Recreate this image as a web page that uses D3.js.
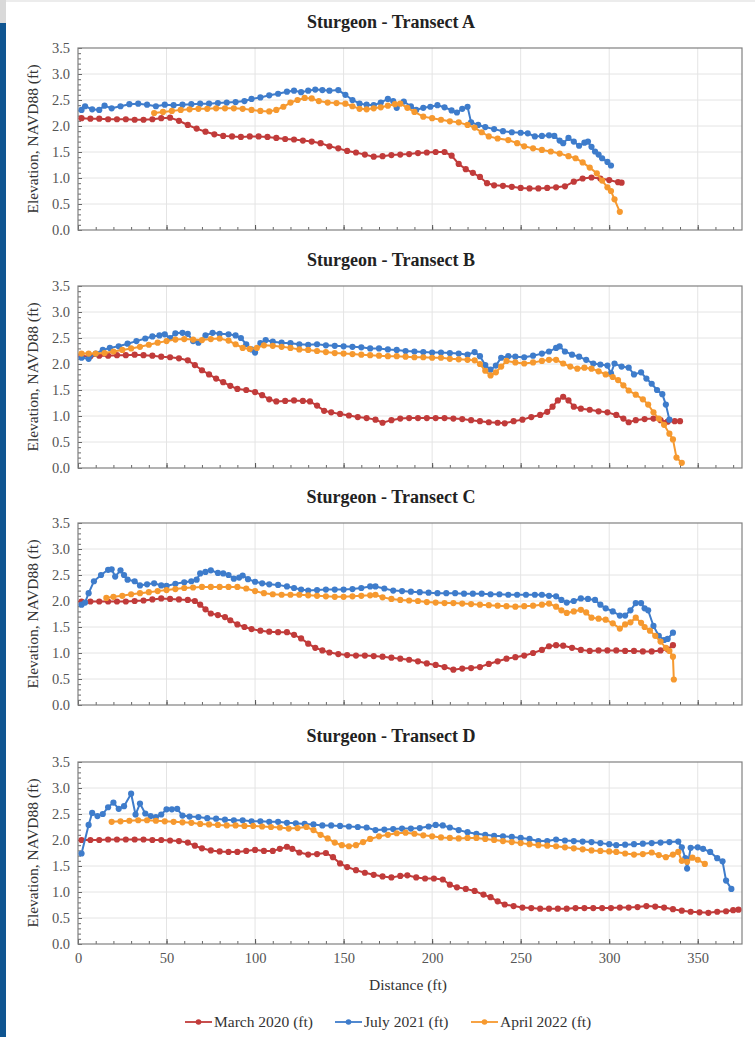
<!DOCTYPE html>
<html>
<head>
<meta charset="utf-8">
<script src="https://cdn.jsdelivr.net/npm/d3@7/dist/d3.min.js"></script>
<style>
  html, body { margin: 0; padding: 0; background: #ffffff; }
  svg { display: block; }
  text { font-family: "Liberation Serif", "Times New Roman", "DejaVu Serif", serif; }
</style>
</head>
<body>
<svg id="chart" width="755" height="1037"></svg>
<script>
// ---------- DATA ----------
const transects = ["A", "B", "C", "D"];
const seriesNames = ["March 2020 (ft)", "July 2021 (ft)", "April 2022 (ft)"];
const seriesColors = ["#C13B3A", "#3E7CCB", "#F6992F"];
const distanceTicks = [0, 50, 100, 150, 200, 250, 300, 350];
const elevationTicks = [0.0, 0.5, 1.0, 1.5, 2.0, 2.5, 3.0, 3.5];
const xTitle = "Distance (ft)";
const yTitle = "Elevation, NAVD88 (ft)";

// [distance (ft), elevation (ft)]
const marchA = [[2,2.15],[7,2.14],[12,2.14],[17,2.13],[22,2.13],[27,2.13],[32,2.12],[37,2.12],[42,2.13],[47,2.15],[52,2.16],[57,2.1],[62,2.02],[67,1.95],[72,1.89],[77,1.84],[82,1.81],[87,1.8],[92,1.79],[97,1.8],[102,1.8],[107,1.79],[112,1.77],[117,1.75],[122,1.74],[127,1.72],[132,1.7],[137,1.67],[142,1.61],[147,1.57],[152,1.52],[157,1.49],[162,1.45],[167,1.41],[172,1.42],[177,1.44],[182,1.45],[187,1.46],[192,1.48],[197,1.49],[202,1.5],[207,1.5],[211,1.43],[215,1.27],[219,1.17],[223,1.1],[227,1.02],[231,0.9],[235,0.86],[240,0.85],[245,0.83],[250,0.81],[255,0.8],[260,0.8],[265,0.81],[270,0.82],[275,0.84],[280,0.93],[285,0.99],[290,1.01],[295,0.99],[300,0.96],[305,0.92],[307,0.91]];
const julyA = [[2,2.31],[4,2.38],[8,2.32],[12,2.31],[15,2.39],[19,2.34],[24,2.38],[29,2.42],[34,2.43],[39,2.41],[44,2.38],[49,2.41],[54,2.4],[59,2.41],[64,2.42],[69,2.43],[74,2.43],[79,2.44],[84,2.45],[89,2.46],[94,2.48],[98,2.52],[103,2.55],[108,2.59],[113,2.62],[118,2.66],[122,2.68],[126,2.65],[130,2.68],[134,2.7],[138,2.69],[142,2.68],[147,2.69],[151,2.6],[155,2.5],[159,2.43],[163,2.41],[167,2.4],[171,2.45],[175,2.52],[178,2.48],[180,2.35],[184,2.47],[188,2.38],[191,2.31],[195,2.35],[199,2.37],[203,2.4],[207,2.36],[211,2.3],[214,2.26],[217,2.33],[220,2.37],[222,2.07],[226,2.02],[230,1.98],[235,1.94],[240,1.9],[245,1.88],[250,1.87],[254,1.86],[258,1.8],[262,1.81],[266,1.82],[269,1.81],[272,1.72],[274,1.67],[277,1.77],[280,1.7],[283,1.62],[286,1.68],[288,1.7],[290,1.6],[292,1.51],[294,1.45],[296,1.38],[299,1.31],[301,1.24]];
const aprilA = [[43,2.25],[48,2.27],[53,2.29],[58,2.31],[63,2.32],[68,2.33],[73,2.33],[78,2.34],[83,2.34],[88,2.34],[93,2.33],[98,2.31],[103,2.29],[108,2.28],[112,2.31],[116,2.37],[120,2.45],[124,2.5],[128,2.54],[132,2.53],[136,2.48],[141,2.45],[146,2.44],[151,2.43],[155,2.38],[159,2.33],[163,2.32],[167,2.34],[171,2.36],[175,2.39],[179,2.42],[182,2.43],[186,2.35],[190,2.27],[195,2.18],[200,2.15],[205,2.12],[210,2.09],[215,2.07],[220,2.02],[224,1.97],[228,1.88],[232,1.8],[237,1.76],[243,1.73],[248,1.67],[252,1.61],[257,1.57],[262,1.54],[267,1.51],[272,1.47],[277,1.42],[281,1.38],[285,1.3],[289,1.2],[293,1.09],[296,0.95],[299,0.82],[301,0.75],[303,0.59],[306,0.35]];

const marchB = [[2,2.15],[7,2.15],[12,2.16],[17,2.16],[22,2.17],[27,2.17],[32,2.18],[37,2.17],[42,2.16],[47,2.14],[52,2.13],[57,2.11],[62,2.07],[66,1.98],[70,1.88],[74,1.8],[78,1.72],[82,1.65],[86,1.58],[90,1.52],[95,1.5],[100,1.46],[104,1.4],[108,1.32],[112,1.28],[117,1.29],[122,1.3],[127,1.29],[131,1.28],[135,1.2],[139,1.1],[143,1.07],[148,1.04],[153,1.01],[158,0.98],[163,0.96],[168,0.93],[172,0.87],[177,0.92],[182,0.95],[187,0.96],[192,0.96],[197,0.96],[202,0.96],[207,0.96],[212,0.95],[217,0.94],[222,0.92],[227,0.9],[232,0.88],[237,0.87],[241,0.86],[246,0.9],[251,0.93],[256,0.98],[261,1.02],[265,1.08],[268,1.18],[271,1.3],[274,1.37],[277,1.3],[280,1.18],[284,1.14],[289,1.12],[294,1.09],[299,1.07],[304,1.02],[308,0.95],[311,0.88],[315,0.92],[320,0.94],[325,0.95],[329,0.92],[333,0.89],[337,0.9],[340,0.9]];
const julyB = [[2,2.12],[6,2.1],[10,2.2],[14,2.27],[18,2.31],[23,2.34],[28,2.39],[33,2.44],[38,2.49],[42,2.53],[46,2.55],[49,2.57],[52,2.5],[55,2.59],[59,2.6],[62,2.58],[65,2.44],[68,2.41],[72,2.55],[76,2.6],[80,2.58],[85,2.57],[89,2.55],[92,2.5],[95,2.38],[98,2.28],[100,2.22],[103,2.4],[106,2.46],[110,2.43],[115,2.41],[120,2.4],[125,2.38],[130,2.37],[135,2.38],[140,2.36],[145,2.35],[150,2.34],[155,2.33],[160,2.32],[165,2.3],[170,2.3],[175,2.28],[180,2.27],[185,2.25],[190,2.24],[195,2.23],[200,2.22],[205,2.22],[210,2.21],[215,2.2],[220,2.18],[224,2.23],[227,2.15],[230,1.98],[233,1.89],[236,1.97],[239,2.12],[243,2.15],[247,2.14],[252,2.13],[257,2.16],[262,2.2],[266,2.24],[270,2.31],[272,2.34],[275,2.24],[279,2.18],[283,2.14],[287,2.08],[291,2.01],[295,1.99],[299,1.97],[301,1.82],[303,2.01],[307,1.95],[311,1.93],[314,1.8],[318,1.84],[321,1.72],[324,1.62],[327,1.5],[330,1.42],[332,1.22],[334,0.93]];
const aprilB = [[2,2.2],[6,2.2],[10,2.2],[15,2.21],[20,2.24],[25,2.27],[30,2.3],[35,2.33],[40,2.37],[45,2.41],[50,2.44],[55,2.47],[60,2.48],[65,2.47],[70,2.46],[75,2.48],[80,2.49],[85,2.45],[89,2.38],[93,2.31],[97,2.29],[101,2.31],[105,2.36],[110,2.35],[115,2.33],[120,2.31],[125,2.28],[130,2.27],[135,2.25],[140,2.23],[145,2.21],[150,2.2],[155,2.19],[160,2.18],[165,2.17],[170,2.16],[175,2.15],[180,2.15],[185,2.14],[190,2.13],[195,2.13],[200,2.12],[205,2.12],[210,2.1],[215,2.09],[220,2.08],[224,2.07],[227,2.0],[230,1.87],[233,1.78],[236,1.84],[239,1.95],[242,2.06],[247,2.03],[252,2.01],[257,2.03],[262,2.06],[266,2.08],[270,2.08],[274,2.01],[278,1.95],[282,1.91],[286,1.93],[290,1.91],[294,1.86],[298,1.8],[302,1.75],[305,1.69],[308,1.59],[311,1.49],[315,1.41],[319,1.32],[322,1.22],[325,1.07],[328,0.95],[331,0.83],[334,0.66],[336,0.55],[338,0.2],[341,0.1]];

const marchC = [[2,1.99],[7,1.99],[12,1.99],[17,1.99],[22,1.99],[27,1.99],[32,2.0],[37,2.01],[42,2.03],[47,2.05],[52,2.04],[57,2.03],[62,2.02],[66,2.0],[69,1.93],[72,1.84],[75,1.76],[79,1.73],[83,1.69],[86,1.63],[90,1.55],[94,1.5],[98,1.46],[103,1.43],[108,1.41],[113,1.4],[118,1.4],[122,1.35],[126,1.28],[130,1.18],[134,1.1],[138,1.05],[142,1.01],[147,0.98],[152,0.96],[157,0.95],[162,0.95],[167,0.94],[172,0.93],[177,0.91],[182,0.89],[187,0.87],[192,0.84],[197,0.8],[202,0.77],[207,0.73],[212,0.68],[217,0.7],[222,0.71],[227,0.73],[232,0.79],[237,0.84],[242,0.89],[247,0.92],[252,0.95],[257,1.0],[262,1.06],[266,1.13],[270,1.15],[274,1.14],[279,1.1],[284,1.06],[289,1.04],[294,1.05],[299,1.05],[304,1.05],[309,1.04],[314,1.04],[319,1.03],[324,1.03],[329,1.05],[333,1.07],[336,1.15]];
const julyC = [[2,1.93],[4,1.97],[6,2.15],[9,2.38],[13,2.5],[17,2.6],[19,2.61],[21,2.47],[24,2.59],[26,2.5],[28,2.41],[32,2.38],[35,2.3],[39,2.32],[43,2.34],[47,2.3],[50,2.29],[55,2.33],[60,2.36],[64,2.38],[67,2.41],[69,2.53],[72,2.56],[75,2.59],[79,2.54],[82,2.53],[85,2.5],[88,2.43],[91,2.45],[93,2.49],[96,2.42],[100,2.37],[104,2.34],[108,2.32],[113,2.31],[118,2.28],[122,2.25],[126,2.22],[130,2.2],[135,2.21],[140,2.22],[145,2.22],[150,2.22],[155,2.23],[160,2.25],[165,2.28],[168,2.28],[173,2.24],[178,2.2],[183,2.19],[188,2.18],[193,2.17],[198,2.16],[203,2.15],[208,2.15],[213,2.15],[218,2.14],[223,2.14],[228,2.14],[233,2.13],[238,2.13],[243,2.12],[248,2.12],[253,2.12],[258,2.12],[262,2.12],[266,2.1],[270,2.09],[273,2.02],[276,1.97],[280,2.0],[284,2.05],[288,2.04],[292,2.02],[295,1.93],[298,1.86],[302,1.8],[306,1.72],[309,1.72],[312,1.82],[315,1.96],[318,1.96],[320,1.86],[322,1.82],[325,1.52],[328,1.33],[331,1.25],[333,1.27],[336,1.39]];
const aprilC = [[16,2.06],[20,2.08],[25,2.1],[30,2.13],[35,2.15],[40,2.17],[45,2.19],[50,2.21],[55,2.23],[60,2.25],[65,2.26],[70,2.27],[75,2.27],[80,2.27],[85,2.27],[90,2.27],[95,2.24],[100,2.19],[105,2.15],[110,2.13],[115,2.12],[120,2.12],[125,2.12],[130,2.11],[135,2.1],[140,2.09],[145,2.08],[150,2.08],[155,2.09],[160,2.1],[165,2.11],[168,2.12],[172,2.07],[177,2.04],[182,2.02],[187,2.01],[192,2.0],[197,1.98],[202,1.97],[207,1.96],[212,1.96],[217,1.95],[222,1.94],[227,1.93],[232,1.92],[237,1.91],[242,1.9],[247,1.89],[252,1.9],[257,1.91],[262,1.93],[266,1.95],[270,1.89],[273,1.82],[276,1.77],[280,1.8],[284,1.83],[287,1.78],[290,1.68],[294,1.66],[298,1.64],[302,1.57],[306,1.47],[309,1.55],[312,1.59],[315,1.68],[318,1.58],[320,1.5],[323,1.43],[326,1.33],[329,1.22],[332,1.1],[334,1.04],[336,0.93],[336.5,0.49]];

const marchD = [[2,2.0],[7,2.0],[12,2.0],[17,2.01],[22,2.01],[27,2.01],[32,2.01],[37,2.01],[42,2.0],[47,2.0],[52,1.99],[57,1.98],[62,1.95],[66,1.89],[70,1.84],[75,1.8],[80,1.78],[85,1.77],[90,1.77],[95,1.79],[100,1.81],[105,1.79],[110,1.79],[114,1.83],[118,1.87],[121,1.83],[125,1.76],[130,1.72],[135,1.73],[140,1.75],[144,1.67],[148,1.55],[152,1.48],[157,1.42],[162,1.37],[167,1.33],[172,1.3],[177,1.28],[182,1.31],[186,1.32],[191,1.28],[196,1.26],[201,1.26],[206,1.24],[210,1.14],[214,1.09],[219,1.06],[224,1.02],[229,0.95],[233,0.9],[237,0.82],[241,0.76],[246,0.73],[251,0.7],[256,0.69],[261,0.68],[266,0.68],[271,0.68],[276,0.68],[281,0.69],[286,0.69],[291,0.69],[296,0.69],[301,0.69],[306,0.7],[311,0.7],[316,0.71],[321,0.73],[326,0.72],[331,0.7],[336,0.67],[341,0.64],[346,0.62],[351,0.61],[356,0.6],[361,0.62],[366,0.63],[370,0.65],[373,0.66]];
const julyD = [[2,1.74],[6,2.29],[8,2.52],[11,2.46],[14,2.5],[17,2.63],[20,2.72],[23,2.6],[26,2.65],[30,2.89],[32.5,2.49],[35,2.7],[38,2.51],[41,2.46],[44,2.44],[47,2.49],[50,2.59],[53,2.59],[56,2.6],[59,2.47],[63,2.45],[68,2.44],[73,2.42],[78,2.41],[83,2.39],[88,2.38],[93,2.38],[98,2.36],[103,2.36],[108,2.35],[113,2.35],[118,2.33],[123,2.32],[128,2.31],[133,2.3],[138,2.28],[143,2.28],[148,2.27],[153,2.26],[158,2.25],[163,2.24],[168,2.19],[173,2.2],[178,2.21],[183,2.22],[188,2.22],[193,2.23],[198,2.26],[202,2.29],[206,2.28],[210,2.24],[215,2.19],[220,2.15],[225,2.12],[230,2.1],[235,2.08],[240,2.07],[245,2.06],[250,2.04],[255,2.02],[260,1.98],[265,1.98],[270,2.01],[275,1.99],[280,1.98],[285,1.97],[290,1.96],[295,1.94],[300,1.92],[304,1.9],[309,1.91],[314,1.92],[319,1.93],[324,1.94],[329,1.95],[334,1.96],[339,1.97],[341,1.86],[343,1.65],[344,1.45],[346,1.85],[350,1.86],[353,1.83],[357,1.77],[361,1.65],[364,1.59],[366,1.22],[369,1.06]];
const aprilD = [[19,2.35],[24,2.36],[29,2.37],[34,2.38],[39,2.38],[44,2.37],[49,2.36],[54,2.35],[59,2.34],[64,2.33],[69,2.31],[74,2.3],[79,2.29],[84,2.28],[89,2.28],[94,2.27],[99,2.27],[104,2.26],[109,2.25],[114,2.24],[119,2.22],[124,2.23],[129,2.25],[133,2.19],[137,2.1],[141,2.03],[145,1.95],[149,1.9],[153,1.88],[157,1.9],[161,1.96],[165,2.02],[170,2.07],[175,2.1],[180,2.13],[185,2.14],[190,2.12],[195,2.09],[200,2.07],[205,2.05],[210,2.04],[215,2.03],[220,2.04],[225,2.04],[230,2.02],[235,2.0],[240,1.98],[245,1.96],[250,1.94],[255,1.92],[260,1.9],[265,1.89],[270,1.88],[275,1.86],[280,1.84],[285,1.82],[290,1.8],[295,1.79],[300,1.78],[304,1.77],[309,1.74],[314,1.72],[319,1.73],[324,1.76],[328,1.71],[332,1.67],[336,1.72],[339,1.77],[341,1.6],[344,1.58],[347,1.66],[350,1.62],[354,1.54]];

const panelData = [
  [marchA, julyA, aprilA],
  [marchB, julyB, aprilB],
  [marchC, julyC, aprilC],
  [marchD, julyD, aprilD]
];

// ---------- LAYOUT ----------
const FONT = "'Liberation Serif', 'Times New Roman', serif";
const svg = d3.select("#chart");
const W = 755, H = 1037;
const plotLeft = 78, plotRight = 742, plotH = 182;
const panelTops = [48, 286, 523, 762];
const titleX = 391;

svg.append("rect").attr("width", W).attr("height", H).attr("fill", "#ffffff");
// page decorations
svg.append("rect").attr("x", 0).attr("y", 0).attr("width", 6).attr("height", 23).attr("fill", "#d9d9d9");
svg.append("rect").attr("x", 0).attr("y", 23).attr("width", 6).attr("height", H - 23).attr("fill", "#0F5591");
svg.append("rect").attr("x", 6).attr("y", 0).attr("width", W - 6).attr("height", 2).attr("fill", "#ececec");

const x = d3.scaleLinear().domain([0, 375]).range([plotLeft, plotRight]);

transects.forEach((t, i) => {
  const top = panelTops[i];
  const bottom = top + plotH;
  const y = d3.scaleLinear().domain([0, 3.5]).range([bottom, top]);
  const g = svg.append("g");

  // gridlines
  g.append("g").selectAll("line").data(elevationTicks.slice(1, -1)).join("line")
    .attr("x1", plotLeft).attr("x2", plotRight)
    .attr("y1", d => y(d)).attr("y2", d => y(d))
    .attr("stroke", "#e4e4e4").attr("stroke-width", 1);
  g.append("g").selectAll("line").data(distanceTicks.slice(1)).join("line")
    .attr("x1", d => x(d)).attr("x2", d => x(d))
    .attr("y1", top).attr("y2", bottom)
    .attr("stroke", "#e4e4e4").attr("stroke-width", 1);

  // axes with inside ticks
  const yMinor = d3.axisLeft(y).tickValues(d3.range(0, 3.51, 0.1)).tickSize(-3).tickFormat("");
  g.append("g").attr("transform", `translate(${plotLeft},0)`).call(yMinor)
    .call(a => a.select(".domain").remove())
    .call(a => a.selectAll("line").attr("stroke", "#666"));
  const yMajor = d3.axisLeft(y).tickValues(elevationTicks).tickSize(-4).tickPadding(8).tickFormat(d3.format(".1f"));
  g.append("g").attr("transform", `translate(${plotLeft},0)`).call(yMajor)
    .attr("font-family", FONT)
    .call(a => a.select(".domain").remove())
    .call(a => a.selectAll("line").attr("stroke", "#666"))
    .call(a => a.selectAll("text").attr("font-size", 14.5).attr("fill", "#555"));

  const xMinor = d3.axisBottom(x).tickValues(d3.range(0, 376, 10)).tickSize(-3).tickFormat("");
  g.append("g").attr("transform", `translate(0,${bottom})`).call(xMinor)
    .call(a => a.select(".domain").remove())
    .call(a => a.selectAll("line").attr("stroke", "#666"));
  const xMajor = d3.axisBottom(x).tickValues(distanceTicks).tickSize(-5).tickPadding(9)
    .tickFormat(i === 3 ? d3.format("d") : "");
  g.append("g").attr("transform", `translate(0,${bottom})`).call(xMajor)
    .attr("font-family", FONT)
    .call(a => a.select(".domain").remove())
    .call(a => a.selectAll("line").attr("stroke", "#555"))
    .call(a => a.selectAll("text").attr("font-size", 14.5).attr("fill", "#555"));

  // frame
  g.append("rect").attr("x", plotLeft).attr("y", top).attr("width", plotRight - plotLeft).attr("height", plotH)
    .attr("fill", "none").attr("stroke", "#808080").attr("stroke-width", 1.2);

  // title
  svg.append("text").attr("x", titleX).attr("y", top - 20)
    .attr("font-family", FONT)
    .attr("text-anchor", "middle").attr("font-weight", "bold").attr("font-size", 18).attr("fill", "#222")
    .text("Sturgeon - Transect " + t);

  // y title
  svg.append("text").attr("transform", `translate(38,${(top + bottom) / 2}) rotate(-90)`)
    .attr("font-family", FONT)
    .attr("text-anchor", "middle").attr("font-size", 15.5).attr("fill", "#333").text(yTitle);

  // series
  const line = d3.line().x(d => x(d[0])).y(d => y(d[1]));
  panelData[i].forEach((s, k) => {
    const sg = g.append("g");
    sg.append("path").datum(s).attr("d", line).attr("fill", "none")
      .attr("stroke", seriesColors[k]).attr("stroke-width", 2);
    sg.selectAll("circle").data(s).join("circle")
      .attr("cx", d => x(d[0])).attr("cy", d => y(d[1])).attr("r", 3.1)
      .attr("fill", seriesColors[k]);
  });
});

// x title
svg.append("text").attr("x", 408).attr("y", 990)
  .attr("font-family", FONT)
  .attr("text-anchor", "middle").attr("font-size", 15.5).attr("fill", "#333").text(xTitle);

// legend
const legendX = [185, 335, 471];
const lg = svg.append("g");
seriesNames.forEach((n, k) => {
  const lx = legendX[k], ly = 1022;
  lg.append("line").attr("x1", lx).attr("x2", lx + 27).attr("y1", ly).attr("y2", ly)
    .attr("stroke", seriesColors[k]).attr("stroke-width", 1.8);
  lg.append("circle").attr("cx", lx + 13.5).attr("cy", ly).attr("r", 2.8).attr("fill", seriesColors[k]);
  lg.append("text").attr("x", lx + 29).attr("y", ly + 5).attr("font-family", FONT)
    .attr("font-size", 15.5).attr("fill", "#333").text(n);
});
</script>
</body>
</html>
